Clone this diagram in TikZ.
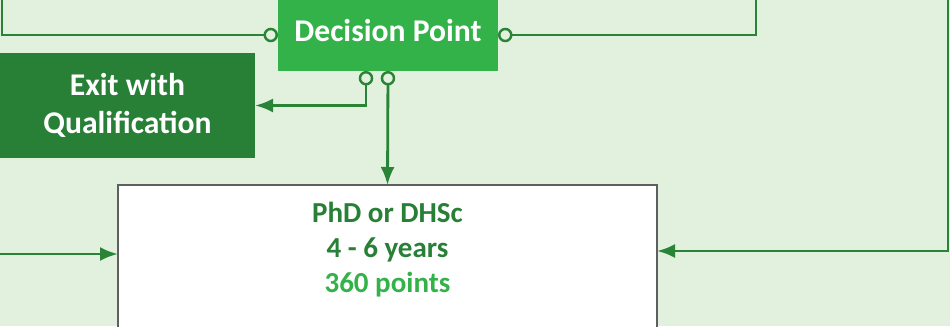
\documentclass[tikz,border=0pt]{standalone}
\usepackage{fontspec}
\setmainfont{Carlito}
\usepackage{tikz}
\usetikzlibrary{calc}
\usetikzlibrary{positioning}
\usetikzlibrary{arrows.meta}

\definecolor{pagegreen}{RGB}{226,240,222}
\definecolor{brightgreen}{RGB}{52,178,74}
\definecolor{deepgreen}{RGB}{40,127,54}
\definecolor{linkgreen}{RGB}{42,132,56}
\definecolor{boxgray}{RGB}{95,95,95}

\begin{document}
\begin{tikzpicture}[node distance=0 cm,outer sep = 0pt,inner sep = 2pt]

	\tikzstyle{every node}=[font=\bfseries]

	\tikzset{decisionfield/.style={align=center,shape=rectangle,text=white,
		font=\fontsize{18}{21.5}\selectfont\bfseries,fill=brightgreen}}

	\tikzset{exitfield/.style={align=center,shape=rectangle,text=white,
		font=\fontsize{18}{21.5}\selectfont\bfseries,fill=deepgreen}}

	\tikzset{degreefield/.style={shape=rectangle,fill=white,draw=boxgray,line width=0.8pt}}

	\tikzset{link/.style={draw=linkgreen,line width=1.6pt}}
	\tikzset{knob/.style={{Circle[open,length=2.9mm,line width=1.4pt]}-}}
	\tikzset{knobarrow/.style={{Circle[open,length=2.9mm,line width=1.4pt]}-{Latex[length=3.6mm,width=2.8mm]}}}
	\tikzset{plainarrow/.style={-{Latex[length=3.6mm,width=2.8mm]}}}

	% Page size and background.
	\useasboundingbox (0,0) rectangle (19,6.52);
	\clip (0,0) rectangle (19,6.52);
	\fill [pagegreen] (0,0) rectangle (19,6.52);

	% Boxes.
	\node (decision) at (7.76,5.82) [decisionfield,minimum width=44mm,minimum height=14.4mm,text depth=2mm] {Decision Point};
	\node (exit) at (2.55,4.41) [exitfield,minimum width=51mm,minimum height=21mm] {Exit with\\Qualification};
	\node (phd) at (7.75,1.26) [degreefield,minimum width=107.8mm,minimum height=31.2mm] {};
	\node (phdtext) [below=2.7mm of phd.north,align=center,text=deepgreen,
		font=\fontsize{16.5}{20}\selectfont\bfseries] {PhD or DHSc\\4 - 6 years\\\textcolor{brightgreen}{360 points}};

	% Free ends of the connectors at the page border.
	\coordinate (backleft) at (0.04,6.7);
	\coordinate (backright) at (15.12,6.7);
	\coordinate (fromleft) at (0,1.44);
	\coordinate (fromright) at (18.96,6.7);
	\coordinate (rightturn) at (18.96,1.5);

	% Loops back from the decision point.
	\draw [link,knob] (decision.west) -| (backleft);
	\draw [link,knob] (decision.east) -| (backright);

	% Exit branch and the way on to the degree.
	\draw [link,knobarrow] ($(decision.south)+(-0.44,0)$) |- (exit.east);
	\draw [link,knobarrow] (decision.south) -- (phd.north);

	% Arrows into the degree box from both sides.
	\draw [link,plainarrow] (fromleft) -- (fromleft -| phd.west);
	\draw [link,plainarrow] (fromright) -- (rightturn) -- (rightturn -| phd.east);
\end{tikzpicture}
\end{document}
